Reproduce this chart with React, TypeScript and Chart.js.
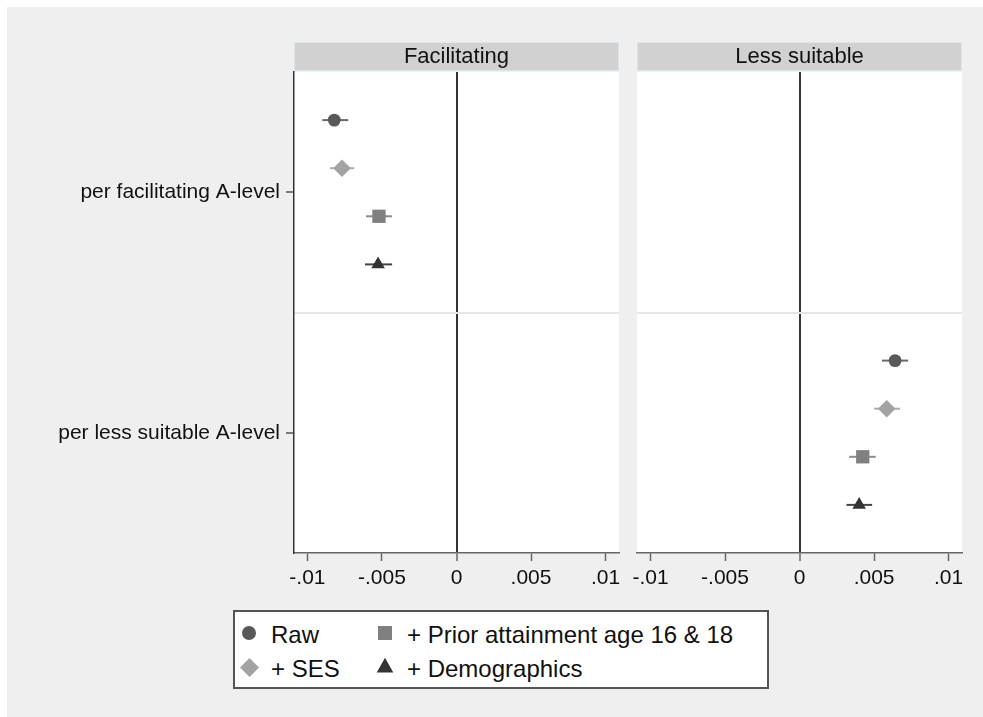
import React, { useEffect, useRef } from 'react';
import { Chart, registerables } from 'chart.js';
Chart.register(...registerables);

// ---- data ----
const panelTitles = ['Facilitating', 'Less suitable'];
const categories = ['per facilitating A-level', 'per less suitable A-level'];
const models = ['Raw', '+ SES', '+ Prior attainment age 16 & 18', '+ Demographics'];
const xTicks = [-0.01, -0.005, 0, 0.005, 0.01];
const xTickLabels = ['-.01', '-.005', '0', '.005', '.01'];
const categoryPositions = [2.5, 7.5];
const dividerPosition = 5;
// row slot of each model (0 = top, 10 = bottom)
const facilitatingSlots = [1, 2, 3, 4];
const lessSuitableSlots = [6, 7, 8, 9];

const facilitatingEst = [-0.0082, -0.00768, -0.0052, -0.00526];
const facilitatingLo = [-0.0090, -0.00848, -0.00607, -0.00614];
const facilitatingHi = [-0.00726, -0.00686, -0.00432, -0.00432];
const lessSuitableEst = [0.00641, 0.00585, 0.00424, 0.0040];
const lessSuitableLo = [0.00553, 0.0050, 0.00333, 0.00315];
const lessSuitableHi = [0.00729, 0.00674, 0.00511, 0.00487];

// ---- styles ----
const FONT = '"Liberation Sans", Arial, Helvetica, sans-serif';
const markerStyles = ['circle', 'rectRot', 'rect', 'triangle'];
const markerColors = ['#595959', '#a3a3a3', '#808080', '#333333'];
const barColors = ['#6a6a6a', '#adadad', '#8c8c8c', '#444444'];
const markerRadii = [6.4, 8.8, 9.4, 7.8];
const X_MIN = -0.0109;
const X_MAX = 0.0109;

const stripPlugin = {
  id: 'strip',
  beforeDraw(chart: any, _args: any, opts: any) {
    const { ctx, chartArea } = chart;
    const w = chartArea.right - chartArea.left;
    ctx.save();
    ctx.fillStyle = '#ffffff';
    ctx.fillRect(chartArea.left, chartArea.top, w, chartArea.bottom - chartArea.top);
    ctx.fillStyle = '#d1d1d1';
    ctx.fillRect(chartArea.left, chartArea.top - 30, w, 29);
    ctx.strokeStyle = '#dde6ea';
    ctx.lineWidth = 1;
    ctx.strokeRect(chartArea.left + 0.5, chartArea.top - 29.5, w - 1, 28);
    ctx.fillStyle = '#111';
    ctx.font = `22px ${FONT}`;
    ctx.textAlign = 'center';
    ctx.textBaseline = 'middle';
    ctx.fillText(opts.text, (chartArea.left + chartArea.right) / 2, chartArea.top - 15);
    ctx.restore();
  },
};

const errorBarPlugin = {
  id: 'errorBars',
  beforeDatasetsDraw(chart: any) {
    const { ctx } = chart;
    const xs = chart.scales.x;
    const ys = chart.scales.y;
    ctx.save();
    chart.data.datasets.forEach((ds: any) => {
      ctx.strokeStyle = ds.barColor;
      ctx.lineWidth = 2;
      ds.data.forEach((pt: any, j: number) => {
        const y = ys.getPixelForValue(pt.y);
        ctx.beginPath();
        ctx.moveTo(xs.getPixelForValue(ds.lo[j]), y);
        ctx.lineTo(xs.getPixelForValue(ds.hi[j]), y);
        ctx.stroke();
      });
    });
    ctx.restore();
  },
};

function buildConfig(panel: number): any {
  const est = panel === 0 ? facilitatingEst : lessSuitableEst;
  const lo = panel === 0 ? facilitatingLo : lessSuitableLo;
  const hi = panel === 0 ? facilitatingHi : lessSuitableHi;
  const slots = panel === 0 ? facilitatingSlots : lessSuitableSlots;
  const isLeft = panel === 0;
  const datasets = models.map((m, i) => ({
    label: m,
    data: [{ x: est[i], y: slots[i] }],
    lo: [lo[i]],
    hi: [hi[i]],
    barColor: barColors[i],
    pointStyle: markerStyles[i],
    pointRadius: markerRadii[i],
    pointHoverRadius: markerRadii[i],
    backgroundColor: markerColors[i],
    borderColor: markerColors[i],
    borderWidth: 0,
    pointBorderWidth: 0,
  }));
  return {
    type: 'scatter',
    data: { datasets },
    plugins: [stripPlugin, errorBarPlugin],
    options: {
      animation: false,
      responsive: false,
      maintainAspectRatio: false,
      devicePixelRatio: 1,
      events: [],
      layout: { padding: { left: 0, top: 72, right: isLeft ? 11 : 21, bottom: 0 } },
      plugins: {
        legend: { display: false },
        tooltip: { enabled: false },
        strip: { text: panelTitles[panel] },
      },
      scales: {
        x: {
          type: 'linear',
          min: X_MIN,
          max: X_MAX,
          afterBuildTicks: (s: any) => {
            s.ticks = xTicks.map((v) => ({ value: v }));
          },
          afterFit: (s: any) => {
            s.height = 47;
          },
          ticks: {
            autoSkip: false,
            maxRotation: 0,
            padding: 5,
            color: '#111',
            font: { family: FONT, size: 21 },
            callback: (v: number) => xTickLabels[xTicks.indexOf(v)] ?? '',
          },
          grid: {
            drawOnChartArea: true,
            color: (c: any) => (c.tick && c.tick.value === 0 ? '#333333' : 'rgba(0,0,0,0)'),
            lineWidth: (c: any) => (c.tick && c.tick.value === 0 ? 2 : 1),
            tickColor: '#666666',
            tickWidth: 1.5,
            tickLength: 8,
          },
          border: { display: true, color: '#666666', width: 1.5 },
        },
        y: {
          type: 'linear',
          min: 0,
          max: 10,
          reverse: true,
          afterBuildTicks: (s: any) => {
            s.ticks = [categoryPositions[0], dividerPosition, categoryPositions[1]].map((v) => ({ value: v }));
          },
          afterFit: (s: any) => {
            s.width = isLeft ? 294 : 10;
          },
          ticks: {
            display: isLeft,
            autoSkip: false,
            padding: 6,
            color: '#111',
            font: { family: FONT, size: 21 },
            callback: (v: number) => {
              const k = categoryPositions.indexOf(v);
              return k >= 0 ? categories[k] : '';
            },
          },
          grid: {
            drawOnChartArea: true,
            drawTicks: isLeft,
            color: (c: any) => (c.tick && c.tick.value === dividerPosition ? '#e6e6e6' : 'rgba(0,0,0,0)'),
            lineWidth: 2,
            tickColor: (c: any) => (c.tick && c.tick.value === dividerPosition ? 'rgba(0,0,0,0)' : '#555555'),
            tickWidth: 1.5,
            tickLength: 8,
          },
          border: { display: isLeft, color: '#333333', width: 1.5 },
        },
      },
    },
  };
}

function Legend() {
  const t = { fontFamily: FONT, fontSize: 24, fill: '#111' } as any;
  return (
    <svg
      width={536}
      height={79}
      style={{ position: 'absolute', left: 233, top: 610 }}
    >
      <rect x={1} y={1} width={534} height={77} fill="#ffffff" stroke="#555555" strokeWidth={2} />
      <circle cx={16} cy={23} r={7} fill={markerColors[0]} />
      <text x={38} y={33} style={t}>{models[0]}</text>
      <rect x={145} y={16} width={14} height={14} fill={markerColors[2]} />
      <text x={174} y={33} style={t}>{models[2]}</text>
      <polygon points="16.5,48 26,57.5 16.5,67 7,57.5" fill={markerColors[1]} />
      <text x={38} y={66.5} style={t}>{models[1]}</text>
      <polygon points="152,47.8 160.3,62.6 143.7,62.6" fill={markerColors[3]} />
      <text x={174} y={66.5} style={t}>{models[3]}</text>
    </svg>
  );
}

export default function App() {
  const leftRef = useRef<HTMLCanvasElement>(null);
  const rightRef = useRef<HTMLCanvasElement>(null);
  useEffect(() => {
    const c1 = new Chart(leftRef.current as any, buildConfig(0));
    const c2 = new Chart(rightRef.current as any, buildConfig(1));
    return () => {
      c1.destroy();
      c2.destroy();
    };
  }, []);
  return (
    <div
      style={{
        position: 'fixed',
        left: 0,
        top: 0,
        width: '100vw',
        height: '100vh',
        background: '#ffffff',
        overflow: 'hidden',
      }}
    >
      <div style={{ position: 'absolute', left: 7, top: 7, width: 1200, height: 1000, background: '#efefef' }} />
      <canvas
        ref={leftRef}
        width={630}
        height={600}
        style={{ position: 'absolute', left: 0, top: 0, width: 630, height: 600 }}
      />
      <canvas
        ref={rightRef}
        width={356}
        height={600}
        style={{ position: 'absolute', left: 627, top: 0, width: 356, height: 600 }}
      />
      <Legend />
    </div>
  );
}
